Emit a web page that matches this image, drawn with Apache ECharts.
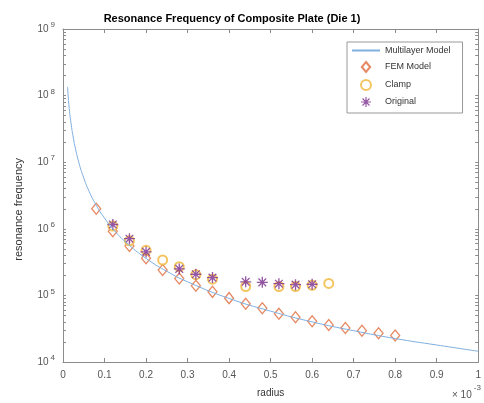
<!DOCTYPE html>
<html>
<head>
<meta charset="utf-8">
<script src="https://cdn.jsdelivr.net/npm/echarts@6/dist/echarts.min.js"></script>
<style>
  html, body { margin: 0; padding: 0; background: #fff; }
  #chart { width: 484px; height: 403px; }
</style>
</head>
<body>
<div id="chart"></div>
<script>
// radius in units of 1e-3
var modelX = [0.011, 0.015, 0.02, 0.025, 0.03, 0.04, 0.05, 0.06, 0.08, 0.1, 0.12, 0.15, 0.2, 0.25, 0.3, 0.4, 0.5, 0.6, 0.7, 0.8, 0.9, 1.0];
var modelY = [1.35e8, 6.4e7, 3.6e7, 2.3e7, 1.6e7, 9e6, 5.8e6, 4e6, 2.25e6, 1.45e6, 1e6, 6.4e5, 3.6e5, 2.3e5, 1.6e5, 9e4, 5.8e4, 4e4, 2.95e4, 2.25e4, 1.8e4, 1.45e4];

var femX = [0.08, 0.12, 0.16, 0.20, 0.24, 0.28, 0.32, 0.36, 0.40, 0.44, 0.48, 0.52, 0.56, 0.60, 0.64, 0.68, 0.72, 0.76, 0.80];
var femY = [2.0e6, 9.2e5, 5.5e5, 3.6e5, 2.4e5, 1.8e5, 1.4e5, 1.13e5, 9.1e4, 7.5e4, 6.4e4, 5.3e4, 4.7e4, 4.1e4, 3.6e4, 3.25e4, 2.95e4, 2.7e4, 2.5e4];

var clampX = [0.12, 0.16, 0.20, 0.24, 0.28, 0.32, 0.36, 0.44, 0.52, 0.56, 0.60, 0.64];
var clampY = [1.1e6, 6.6e5, 4.75e5, 3.4e5, 2.7e5, 2.05e5, 1.75e5, 1.36e5, 1.36e5, 1.36e5, 1.42e5, 1.51e5];

var origX = [0.12, 0.16, 0.20, 0.28, 0.32, 0.36, 0.44, 0.48, 0.52, 0.56, 0.60];
var origY = [1.16e6, 7.1e5, 4.5e5, 2.5e5, 2.08e5, 1.85e5, 1.6e5, 1.57e5, 1.5e5, 1.45e5, 1.47e5];

var xTicks = ['0', '0.1', '0.2', '0.3', '0.4', '0.5', '0.6', '0.7', '0.8', '0.9', '1'];
var yExps = [4, 5, 6, 7, 8, 9];

function pairs(xs, ys) {
  var out = [];
  for (var i = 0; i < xs.length; i++) out.push([xs[i], ys[i]]);
  return out;
}

// log-spaced ticks: decades plus 2..9 in each decade
var yTickVals = [];
for (var e = 4; e < 9; e++) {
  for (var k = 1; k < 10; k++) yTickVals.push(k * Math.pow(10, e));
}
yTickVals.push(1e9);

var starPath = 'path://M0,4.4L10,4.4L10,5.6L0,5.6Z M4.4,0L5.6,0L5.6,10L4.4,10Z M1.1,1.9L1.9,1.1L8.9,8.1L8.1,8.9Z M8.1,1.1L8.9,1.9L1.9,8.9L1.1,8.1Z';
var diamondPath = 'path://M5,0L10,6L5,12L0,6Z';

var axisGray = '#8c8c8c';
var labelGray = '#555';

var chart = echarts.init(document.getElementById('chart'));
var option = {
  backgroundColor: '#fff',
  animation: false,
  title: {
    text: 'Resonance Frequency of Composite Plate (Die 1)',
    left: 227, top: 8, textAlign: 'center',
    textStyle: { fontFamily: 'Liberation Sans', fontSize: 11, fontWeight: 'bold', color: '#000' }
  },
  legend: {
    orient: 'vertical',
    left: 347, top: 42,
    width: 126, height: 68,
    borderColor: '#999', borderWidth: 1,
    padding: [4, 12, 6, 4],
    itemWidth: 28, itemHeight: 10, itemGap: 6,
    symbolKeepAspect: true,
    textStyle: { fontFamily: 'Liberation Sans', fontSize: 9, color: '#333' },
    data: ['Multilayer Model', 'FEM Model', 'Clamp', 'Original']
  },
  grid: { left: 63, top: 29, right: 2, bottom: 40 },
  xAxis: [{
    type: 'value', min: 0, max: 1, interval: 0.1,
    axisLine: { onZero: false, lineStyle: { color: axisGray } },
    axisTick: { inside: true, length: 4, lineStyle: { color: axisGray } },
    axisLabel: {
      color: labelGray, fontFamily: 'Liberation Sans', fontSize: 10, margin: 8,
      formatter: function (v) { return xTicks[Math.round(v * 10)]; }
    },
    splitLine: { show: false },
    name: 'radius', nameLocation: 'middle', nameGap: 26,
    nameTextStyle: { color: '#333', fontFamily: 'Liberation Sans', fontSize: 10 }
  }, {
    type: 'value', min: 0, max: 1, interval: 0.1, position: 'top',
    axisLine: { show: true, onZero: false, lineStyle: { color: axisGray } },
    axisTick: { inside: true, length: 4, lineStyle: { color: axisGray } },
    axisLabel: { show: false },
    splitLine: { show: false }
  }],
  yAxis: [{
    type: 'log', logBase: 10, min: 1e4, max: 1e9,
    axisLine: { show: true, onZero: false, lineStyle: { color: axisGray } },
    axisTick: { show: true, inside: true, length: 3, customValues: yTickVals, lineStyle: { color: axisGray } },
    axisLabel: {
      color: labelGray, margin: 8,
      formatter: function (v) {
        var ex = Math.round(Math.log10(v));
        if (yExps.indexOf(ex) < 0) return '';
        return '{b|10}{s|' + ex + '}';
      },
      rich: {
        b: { fontFamily: 'Liberation Sans', fontSize: 10, color: labelGray },
        s: { fontFamily: 'Liberation Sans', fontSize: 8, color: labelGray, verticalAlign: 'bottom', padding: [0, 0, 8, 2] }
      }
    },
    splitLine: { show: false }
  }, {
    type: 'log', logBase: 10, min: 1e4, max: 1e9, position: 'right',
    axisLine: { show: true, onZero: false, lineStyle: { color: axisGray } },
    axisTick: { show: true, inside: true, length: 3, customValues: yTickVals, lineStyle: { color: axisGray } },
    axisLabel: { show: false },
    splitLine: { show: false }
  }],
  graphic: [{
    type: 'text', left: 13, top: 158, rotation: Math.PI / 2,
    style: { text: 'resonance frequency', fontFamily: 'Liberation Sans', fontSize: 11, fill: '#333' }
  }, {
    type: 'text', left: 452, top: 384,
    style: {
      text: '{a|\u00d7 10}{b|-3}',
      rich: {
        a: { fontFamily: 'Liberation Sans', fontSize: 10, fill: '#555', padding: [8, 0, 0, 0] },
        b: { fontFamily: 'Liberation Sans', fontSize: 8, fill: '#555', padding: [0, 0, 6, 2] }
      }
    }
  }],
  series: [{
    name: 'Multilayer Model', type: 'line', smooth: true,
    showSymbol: false, symbol: 'none',
    lineStyle: { color: '#7fb0e0', width: 1 },
    itemStyle: { color: '#7fb0e0', opacity: 0 },
    data: pairs(modelX, modelY)
  }, {
    name: 'FEM Model', type: 'scatter',
    symbol: diamondPath, symbolSize: [9, 11],
    itemStyle: { color: '#fff', borderColor: '#e06a3a', borderWidth: 1.3 },
    data: pairs(femX, femY)
  }, {
    name: 'Clamp', type: 'scatter',
    symbol: 'emptyCircle', symbolSize: 9,
    itemStyle: { color: '#f0b63a', borderWidth: 1.2 },
    data: pairs(clampX, clampY)
  }, {
    name: 'Original', type: 'scatter',
    symbol: starPath, symbolSize: 11,
    itemStyle: { color: '#7a2c8c' },
    data: pairs(origX, origY)
  }]
};
chart.setOption(option);
</script>
</body>
</html>
